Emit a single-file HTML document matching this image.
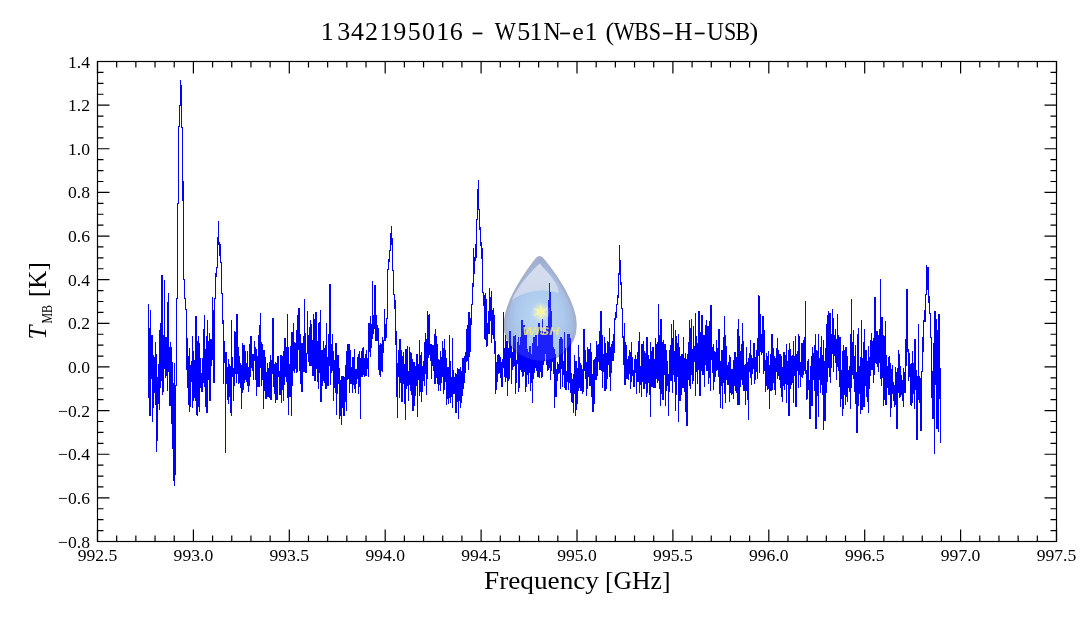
<!DOCTYPE html>
<html><head><meta charset="utf-8"><style>html,body{margin:0;padding:0;background:#fff;width:1080px;height:618px;overflow:hidden}svg{display:block;will-change:transform}</style></head>
<body><svg width="1080" height="618" viewBox="0 0 1080 618">
<rect x="97.5" y="61.5" width="959.0" height="480.0" fill="none" stroke="#000" stroke-width="1.2"/><path d="M97.50 541.5v-12M97.50 61.5v12M116.68 541.5v-6M116.68 61.5v6M135.86 541.5v-6M135.86 61.5v6M155.04 541.5v-6M155.04 61.5v6M174.22 541.5v-6M174.22 61.5v6M193.40 541.5v-12M193.40 61.5v12M212.58 541.5v-6M212.58 61.5v6M231.76 541.5v-6M231.76 61.5v6M250.94 541.5v-6M250.94 61.5v6M270.12 541.5v-6M270.12 61.5v6M289.30 541.5v-12M289.30 61.5v12M308.48 541.5v-6M308.48 61.5v6M327.66 541.5v-6M327.66 61.5v6M346.84 541.5v-6M346.84 61.5v6M366.02 541.5v-6M366.02 61.5v6M385.20 541.5v-12M385.20 61.5v12M404.38 541.5v-6M404.38 61.5v6M423.56 541.5v-6M423.56 61.5v6M442.74 541.5v-6M442.74 61.5v6M461.92 541.5v-6M461.92 61.5v6M481.10 541.5v-12M481.10 61.5v12M500.28 541.5v-6M500.28 61.5v6M519.46 541.5v-6M519.46 61.5v6M538.64 541.5v-6M538.64 61.5v6M557.82 541.5v-6M557.82 61.5v6M577.00 541.5v-12M577.00 61.5v12M596.18 541.5v-6M596.18 61.5v6M615.36 541.5v-6M615.36 61.5v6M634.54 541.5v-6M634.54 61.5v6M653.72 541.5v-6M653.72 61.5v6M672.90 541.5v-12M672.90 61.5v12M692.08 541.5v-6M692.08 61.5v6M711.26 541.5v-6M711.26 61.5v6M730.44 541.5v-6M730.44 61.5v6M749.62 541.5v-6M749.62 61.5v6M768.80 541.5v-12M768.80 61.5v12M787.98 541.5v-6M787.98 61.5v6M807.16 541.5v-6M807.16 61.5v6M826.34 541.5v-6M826.34 61.5v6M845.52 541.5v-6M845.52 61.5v6M864.70 541.5v-12M864.70 61.5v12M883.88 541.5v-6M883.88 61.5v6M903.06 541.5v-6M903.06 61.5v6M922.24 541.5v-6M922.24 61.5v6M941.42 541.5v-6M941.42 61.5v6M960.60 541.5v-12M960.60 61.5v12M979.78 541.5v-6M979.78 61.5v6M998.96 541.5v-6M998.96 61.5v6M1018.14 541.5v-6M1018.14 61.5v6M1037.32 541.5v-6M1037.32 61.5v6M1056.50 541.5v-12M1056.50 61.5v12M97.5 541.50h12M1056.5 541.50h-12M97.5 530.59h6M1056.5 530.59h-6M97.5 519.68h6M1056.5 519.68h-6M97.5 508.77h6M1056.5 508.77h-6M97.5 497.86h12M1056.5 497.86h-12M97.5 486.95h6M1056.5 486.95h-6M97.5 476.05h6M1056.5 476.05h-6M97.5 465.14h6M1056.5 465.14h-6M97.5 454.23h12M1056.5 454.23h-12M97.5 443.32h6M1056.5 443.32h-6M97.5 432.41h6M1056.5 432.41h-6M97.5 421.50h6M1056.5 421.50h-6M97.5 410.59h12M1056.5 410.59h-12M97.5 399.68h6M1056.5 399.68h-6M97.5 388.77h6M1056.5 388.77h-6M97.5 377.86h6M1056.5 377.86h-6M97.5 366.95h12M1056.5 366.95h-12M97.5 356.05h6M1056.5 356.05h-6M97.5 345.14h6M1056.5 345.14h-6M97.5 334.23h6M1056.5 334.23h-6M97.5 323.32h12M1056.5 323.32h-12M97.5 312.41h6M1056.5 312.41h-6M97.5 301.50h6M1056.5 301.50h-6M97.5 290.59h6M1056.5 290.59h-6M97.5 279.68h12M1056.5 279.68h-12M97.5 268.77h6M1056.5 268.77h-6M97.5 257.86h6M1056.5 257.86h-6M97.5 246.95h6M1056.5 246.95h-6M97.5 236.05h12M1056.5 236.05h-12M97.5 225.14h6M1056.5 225.14h-6M97.5 214.23h6M1056.5 214.23h-6M97.5 203.32h6M1056.5 203.32h-6M97.5 192.41h12M1056.5 192.41h-12M97.5 181.50h6M1056.5 181.50h-6M97.5 170.59h6M1056.5 170.59h-6M97.5 159.68h6M1056.5 159.68h-6M97.5 148.77h12M1056.5 148.77h-12M97.5 137.86h6M1056.5 137.86h-6M97.5 126.95h6M1056.5 126.95h-6M97.5 116.05h6M1056.5 116.05h-6M97.5 105.14h12M1056.5 105.14h-12M97.5 94.23h6M1056.5 94.23h-6M97.5 83.32h6M1056.5 83.32h-6M97.5 72.41h6M1056.5 72.41h-6M97.5 61.50h12M1056.5 61.50h-12" stroke="#000" stroke-width="1.2" fill="none"/><defs>
<radialGradient id="lg1" cx="0.5" cy="0.6" r="0.6">
<stop offset="0" stop-color="#c4e0f8"/><stop offset="0.55" stop-color="#b0cdef"/><stop offset="1" stop-color="#9aa8cc"/>
</radialGradient>
<linearGradient id="lg2" x1="0" y1="0" x2="0" y2="1">
<stop offset="0" stop-color="#e4e7f0"/><stop offset="1" stop-color="#d8dfee"/>
</linearGradient>
<radialGradient id="lg3" cx="0.5" cy="0.5" r="0.5">
<stop offset="0" stop-color="#fffbc0" stop-opacity="0.9"/><stop offset="1" stop-color="#fffbc0" stop-opacity="0"/>
</radialGradient>
</defs>
<path d="M535.8 260 Q539.6 254.6 543.4 260 C555 274 575.5 303 575.5 325 C575.5 346 559 360.7 540.5 360.7 C522 360.7 505 346 505 325 C505 303 525 274 536.6 259 Z" fill="url(#lg1)" stroke="#a9afc9" stroke-width="2.6"/>
<path d="M539.6 263.5 C546 270 562 288 558 293 C548 289 528 289 512 300 C518 285 533 270 539.6 263.5 Z" fill="url(#lg2)"/>
<path d="M148.10 304.0H148.30V310.2H148.50V397.5H148.70V349.4H148.90V362.5H149.10V365.3H149.30V328.4H149.50V380.1H149.70V350.9H149.90V415.5H150.10V356.7H150.30V370.5H150.50V310.0H150.70V351.9H150.90V342.7H151.10V353.8H151.30V369.9H151.50V340.0H151.70V378.0H151.90V335.0H152.10V421.0H152.30V395.3H152.50V366.7H152.70V360.8H152.90V371.8H153.10V388.9H153.30V407.2H153.50V355.0H153.70V371.7H153.90V392.9H154.10V357.7H154.30V378.0H154.50V388.8H154.70V375.4H154.90V370.2H155.10V384.2H155.30V342.0H155.50V404.8H155.70V351.3H155.90V354.1H156.10V451.0H156.30V382.6H156.50V364.3H156.70V360.0H156.90V377.3H157.10V440.0H157.30V405.8H157.50V387.2H157.70V436.0H157.90V397.4H158.10V364.5H158.30V368.3H158.50V403.8H158.70V394.6H158.90V382.4H159.10V363.0H159.30V390.6H159.50V330.6H159.70V409.6H159.90V386.0H160.10V342.8H160.30V382.8H160.50V352.9H160.70V387.6H160.90V323.2H161.10V366.5H161.30V380.7H161.50V378.9H161.70V327.8H161.90V275.0H162.10V374.8H162.30V359.3H162.50V394.3H162.70V346.5H162.90V385.4H163.10V349.0H163.30V391.9H163.50V359.0H163.70V360.8H163.90V335.9H164.10V280.0H164.30V360.0H164.50V366.3H164.70V368.4H164.90V358.3H165.10V344.4H165.30V346.0H165.50V349.4H165.70V377.4H165.90V337.0H166.10V360.0H166.30V359.7H166.50V373.8H166.70V375.7H166.90V350.3H167.10V302.0H167.30V381.4H167.50V390.7H167.70V379.6H167.90V371.6H168.10V365.7H168.30V366.6H168.50V351.4H168.70V293.0H168.90V347.1H169.10V371.7H169.30V361.4H169.50V373.9H169.70V366.2H169.90V405.2H170.10V380.4H170.30V395.2H170.50V342.0H170.70V378.0H170.90V362.3H171.10V400.8H171.30V347.3H171.50V423.7H171.70V399.4H171.90V362.2H172.10V383.8H172.30V380.7H172.50V448.0H172.70V404.1H172.90V424.3H173.10V470.0H173.30V414.9H173.50V383.9H173.70V480.0H173.90V396.5H174.10V485.0H174.30V363.8H174.50V483.0H174.70V381.1H174.90V445.5H175.10V474.0H175.30V395.9H175.50V396.6H175.70V460.0H175.90V385.1H176.10V332.7H176.30V331.0H176.50V332.1H176.70V330.0H176.90V298.7H177.10V282.8H177.30V268.2H177.50V254.8H177.70V251.0H177.90V203.6H178.10V181.4H178.30V131.0H178.50V132.5H178.70V129.9H178.90V126.0H179.10V124.1H179.30V117.0H179.50V117.3H179.70V110.5H179.90V105.1H180.10V95.5H180.30V80.0H180.50V80.4H180.70V82.2H180.90V85.7H181.10V89.0H181.30V87.5H181.50V90.9H181.70V107.4H181.90V127.4H182.10V145.3H182.30V164.9H182.50V183.4H182.70V200.5H182.90V181.0H183.10V237.8H183.30V272.0H183.50V275.4H183.70V276.7H183.90V279.4H184.10V290.0H184.30V288.2H184.50V290.9H184.70V296.3H184.90V298.0H185.10V302.7H185.30V305.2H185.50V308.1H185.70V308.0H185.90V309.7H186.10V330.1H186.30V369.8H186.50V331.3H186.70V334.8H186.90V338.2H187.10V340.4H187.30V370.5H187.50V387.8H187.70V364.5H187.90V384.6H188.10V404.6H188.30V376.1H188.50V385.0H188.70V377.5H188.90V356.3H189.10V408.3H189.30V348.9H189.50V411.2H189.70V376.6H189.90V406.6H190.10V375.1H190.30V366.6H190.50V388.1H190.70V365.2H190.90V375.5H191.10V381.7H191.30V373.5H191.50V368.9H191.70V361.2H191.90V375.4H192.10V336.3H192.30V383.6H192.50V355.7H192.70V407.8H192.90V400.8H193.10V351.1H193.30V396.5H193.50V377.4H193.70V372.5H193.90V397.9H194.10V375.7H194.30V360.0H194.50V388.8H194.70V374.8H194.90V384.2H195.10V354.2H195.30V400.8H195.50V391.8H195.70V362.5H195.90V316.0H196.10V383.0H196.30V372.7H196.50V414.6H196.70V375.2H196.90V361.9H197.10V360.2H197.30V369.7H197.50V415.0H197.70V341.2H197.90V365.2H198.10V364.9H198.30V350.7H198.50V406.0H198.70V336.9H198.90V385.7H199.10V365.1H199.30V381.8H199.50V343.4H199.70V411.4H199.90V358.5H200.10V378.4H200.30V360.7H200.50V368.3H200.70V387.5H200.90V383.7H201.10V378.0H201.30V390.2H201.50V374.4H201.70V373.5H201.90V391.4H202.10V379.8H202.30V363.4H202.50V379.2H202.70V378.3H202.90V358.3H203.10V345.7H203.30V367.7H203.50V382.5H203.70V329.1H203.90V348.8H204.10V345.6H204.30V377.7H204.50V315.2H204.70V386.6H204.90V385.5H205.10V349.1H205.30V406.0H205.50V373.9H205.70V364.0H205.90V375.4H206.10V336.0H206.30V370.0H206.50V407.5H206.70V341.1H206.90V412.9H207.10V355.1H207.30V399.3H207.50V364.4H207.70V320.4H207.90V367.3H208.10V370.2H208.30V342.0H208.50V341.0H208.70V379.7H208.90V347.9H209.10V333.4H209.30V355.4H209.50V387.5H209.70V359.2H209.90V400.9H210.10V388.6H210.30V355.1H210.50V343.4H210.70V339.6H210.90V364.3H211.10V365.4H211.30V356.0H211.50V362.0H211.70V339.9H211.90V359.2H212.10V297.0H212.30V297.0H212.50V297.8H212.70V299.9H212.90V310.0H213.10V328.4H213.30V332.6H213.50V351.6H213.70V334.1H213.90V382.5H214.10V308.9H214.30V308.5H214.50V313.2H214.70V309.0H214.90V298.9H215.10V287.7H215.30V273.0H215.50V277.7H215.70V279.6H215.90V273.0H216.10V276.2H216.30V273.2H216.50V268.0H216.70V274.7H216.90V267.1H217.10V241.0H217.30V247.9H217.50V244.8H217.70V237.7H217.90V242.4H218.10V241.5H218.30V228.6H218.50V222.2H218.70V221.0H218.90V244.6H219.10V242.3H219.30V250.6H219.50V250.0H219.70V252.2H219.90V255.7H220.10V261.0H220.30V250.0H220.50V244.0H220.70V250.6H220.90V262.9H221.10V271.3H221.30V270.9H221.50V275.7H221.70V275.0H221.90V293.3H222.10V317.0H222.30V309.3H222.50V321.4H222.70V323.0H222.90V320.0H223.10V367.7H223.30V341.4H223.50V383.4H223.70V347.0H223.90V346.1H224.10V344.7H224.30V345.8H224.50V362.3H224.70V341.6H224.90V362.6H225.10V361.7H225.30V374.9H225.50V368.7H225.70V452.0H225.90V352.5H226.10V383.5H226.30V382.8H226.50V372.7H226.70V381.3H226.90V370.8H227.10V379.1H227.30V367.2H227.50V399.0H227.70V368.6H227.90V371.1H228.10V359.4H228.30V383.9H228.50V403.8H228.70V380.2H228.90V364.7H229.10V396.7H229.30V386.4H229.50V383.6H229.70V385.5H229.90V394.2H230.10V385.2H230.30V396.2H230.50V366.0H230.70V412.2H230.90V376.1H231.10V415.5H231.30V320.1H231.50V400.5H231.70V382.1H231.90V362.9H232.10V376.5H232.30V373.7H232.50V374.2H232.70V357.6H232.90V376.1H233.10V392.5H233.30V400.5H233.50V368.3H233.70V377.8H233.90V374.7H234.10V385.7H234.30V331.7H234.50V338.6H234.70V369.6H234.90V333.9H235.10V351.6H235.30V351.5H235.50V369.0H235.70V332.2H235.90V373.6H236.10V315.1H236.30V382.7H236.50V329.8H236.70V346.9H236.90V314.5H237.10V353.6H237.30V357.7H237.50V357.3H237.70V373.1H237.90V366.1H238.10V370.6H238.30V383.7H238.50V347.7H238.70V363.0H238.90V356.3H239.10V382.7H239.30V374.3H239.50V380.2H239.70V363.1H239.90V367.2H240.10V384.7H240.30V363.7H240.50V387.9H240.70V378.2H240.90V365.4H241.10V380.9H241.30V379.0H241.50V406.9H241.70V408.1H241.90V366.6H242.10V377.3H242.30V343.6H242.50V392.7H242.70V374.7H242.90V360.7H243.10V389.8H243.30V345.7H243.50V378.0H243.70V370.1H243.90V352.6H244.10V382.0H244.30V372.2H244.50V345.6H244.70V357.1H244.90V379.7H245.10V361.8H245.30V351.0H245.50V363.7H245.70V365.3H245.90V363.8H246.10V374.7H246.30V367.3H246.50V381.8H246.70V369.3H246.90V367.8H247.10V373.9H247.30V379.2H247.50V374.2H247.70V351.4H247.90V385.9H248.10V367.2H248.30V391.4H248.50V367.7H248.70V378.7H248.90V369.2H249.10V385.7H249.30V355.4H249.50V350.9H249.70V357.4H249.90V344.2H250.10V358.9H250.30V350.6H250.50V353.5H250.70V376.9H250.90V336.6H251.10V356.5H251.30V349.9H251.50V367.1H251.70V337.3H251.90V356.7H252.10V360.0H252.30V370.9H252.50V358.4H252.70V358.2H252.90V354.4H253.10V374.7H253.30V379.1H253.50V363.1H253.70V364.5H253.90V360.4H254.10V341.9H254.30V353.4H254.50V352.1H254.70V359.2H254.90V356.8H255.10V347.8H255.30V379.9H255.50V376.1H255.70V356.4H255.90V371.9H256.10V370.2H256.30V380.8H256.50V349.5H256.70V395.5H256.90V356.5H257.10V386.4H257.30V360.6H257.50V363.4H257.70V365.7H257.90V379.0H258.10V348.4H258.30V363.1H258.50V356.7H258.70V335.2H258.90V386.6H259.10V355.4H259.30V355.2H259.50V373.3H259.70V325.3H259.90V357.9H260.10V321.0H260.30V367.4H260.50V313.9H260.70V313.4H260.90V358.2H261.10V385.6H261.30V342.7H261.50V362.6H261.70V375.3H261.90V344.7H262.10V379.6H262.30V379.5H262.50V373.8H262.70V372.2H262.90V355.4H263.10V385.7H263.30V367.4H263.50V402.1H263.70V408.4H263.90V350.6H264.10V350.7H264.30V378.8H264.50V383.3H264.70V390.8H264.90V386.8H265.10V362.6H265.30V366.5H265.50V394.8H265.70V357.8H265.90V398.8H266.10V372.3H266.30V393.8H266.50V383.7H266.70V390.0H266.90V388.1H267.10V363.8H267.30V388.7H267.50V372.6H267.70V381.3H267.90V396.5H268.10V370.9H268.30V368.5H268.50V369.7H268.70V372.7H268.90V387.3H269.10V365.5H269.30V397.5H269.50V379.3H269.70V378.7H269.90V362.5H270.10V387.5H270.30V385.7H270.50V355.2H270.70V399.6H270.90V390.5H271.10V376.8H271.30V378.1H271.50V399.3H271.70V378.1H271.90V360.1H272.10V373.2H272.30V365.8H272.50V370.1H272.70V347.8H272.90V318.0H273.10V358.4H273.30V377.8H273.50V369.5H273.70V386.7H273.90V368.0H274.10V366.6H274.30V386.2H274.50V388.6H274.70V364.2H274.90V393.0H275.10V372.1H275.30V374.4H275.50V402.3H275.70V362.6H275.90V396.6H276.10V370.5H276.30V390.2H276.50V363.5H276.70V376.0H276.90V399.7H277.10V381.6H277.30V383.6H277.50V375.3H277.70V385.6H277.90V356.8H278.10V367.9H278.30V376.8H278.50V364.9H278.70V369.5H278.90V374.6H279.10V372.3H279.30V371.0H279.50V394.1H279.70V379.8H279.90V394.4H280.10V375.4H280.30V376.5H280.50V366.0H280.70V382.1H280.90V355.6H281.10V383.5H281.30V391.1H281.50V402.9H281.70V391.8H281.90V364.8H282.10V385.6H282.30V356.8H282.50V389.5H282.70V368.0H282.90V383.6H283.10V400.2H283.30V370.9H283.50V398.1H283.70V351.5H283.90V357.7H284.10V384.8H284.30V383.7H284.50V341.3H284.70V366.4H284.90V338.6H285.10V373.4H285.30V376.9H285.50V362.4H285.70V359.3H285.90V347.7H286.10V381.6H286.30V380.2H286.50V379.5H286.70V371.7H286.90V347.4H287.10V314.0H287.30V368.8H287.50V381.9H287.70V397.6H287.90V347.5H288.10V403.1H288.30V386.0H288.50V396.5H288.70V414.3H288.90V396.8H289.10V369.1H289.30V395.9H289.50V392.0H289.70V388.8H289.90V364.1H290.10V361.4H290.30V396.7H290.50V380.4H290.70V376.8H290.90V346.8H291.10V399.7H291.30V332.4H291.50V375.5H291.70V415.0H291.90V350.1H292.10V365.3H292.30V337.0H292.50V385.4H292.70V332.4H292.90V366.6H293.10V351.6H293.30V336.3H293.50V370.2H293.70V323.9H293.90V349.4H294.10V348.1H294.30V342.8H294.50V364.2H294.70V372.1H294.90V349.2H295.10V343.7H295.30V349.2H295.50V353.2H295.70V368.7H295.90V344.9H296.10V362.2H296.30V351.6H296.50V341.7H296.70V372.1H296.90V330.0H297.10V364.2H297.30V371.9H297.50V318.1H297.70V357.6H297.90V315.4H298.10V349.5H298.30V316.6H298.50V349.3H298.70V332.3H298.90V308.0H299.10V370.1H299.30V347.4H299.50V366.9H299.70V352.9H299.90V356.7H300.10V346.1H300.30V334.6H300.50V365.6H300.70V383.7H300.90V361.2H301.10V351.5H301.30V391.7H301.50V351.0H301.70V356.5H301.90V343.6H302.10V350.5H302.30V361.5H302.50V391.5H302.70V353.1H302.90V359.7H303.10V358.9H303.30V362.1H303.50V336.3H303.70V371.9H303.90V368.4H304.10V299.6H304.30V362.2H304.50V338.4H304.70V337.6H304.90V371.9H305.10V361.9H305.30V333.2H305.50V367.7H305.70V356.5H305.90V372.6H306.10V364.1H306.30V356.3H306.50V362.2H306.70V357.5H306.90V353.8H307.10V326.7H307.30V311.7H307.50V342.4H307.70V320.0H307.90V348.6H308.10V341.1H308.30V335.5H308.50V335.1H308.70V344.0H308.90V361.2H309.10V327.2H309.30V363.0H309.50V345.2H309.70V341.1H309.90V365.0H310.10V325.2H310.30V365.8H310.50V320.6H310.70V333.8H310.90V328.0H311.10V354.7H311.30V324.9H311.50V351.1H311.70V326.3H311.90V365.1H312.10V365.0H312.30V340.7H312.50V371.0H312.70V345.8H312.90V375.5H313.10V328.4H313.30V314.1H313.50V373.0H313.70V329.2H313.90V329.5H314.10V339.8H314.30V319.3H314.50V350.5H314.70V319.7H314.90V380.4H315.10V353.1H315.30V321.7H315.50V328.6H315.70V347.5H315.90V312.6H316.10V368.2H316.30V354.7H316.50V338.8H316.70V357.9H316.90V365.4H317.10V381.8H317.30V380.9H317.50V351.9H317.70V381.2H317.90V341.7H318.10V372.4H318.30V333.5H318.50V388.1H318.70V323.2H318.90V355.7H319.10V369.9H319.30V370.0H319.50V322.8H319.70V360.2H319.90V372.1H320.10V310.0H320.30V351.4H320.50V379.1H320.70V365.3H320.90V401.1H321.10V375.7H321.30V353.9H321.50V350.9H321.70V385.4H321.90V385.2H322.10V374.8H322.30V385.1H322.50V356.4H322.70V350.5H322.90V380.4H323.10V362.0H323.30V380.5H323.50V341.1H323.70V371.1H323.90V348.9H324.10V377.2H324.30V349.3H324.50V359.9H324.70V357.1H324.90V382.5H325.10V351.3H325.30V345.4H325.50V348.7H325.70V349.0H325.90V388.6H326.10V323.0H326.30V358.7H326.50V371.5H326.70V377.7H326.90V358.4H327.10V371.5H327.30V367.0H327.50V369.5H327.70V357.4H327.90V385.9H328.10V350.5H328.30V382.3H328.50V334.3H328.70V382.4H328.90V335.9H329.10V342.4H329.30V365.2H329.50V338.7H329.70V363.3H329.90V284.0H330.10V384.8H330.30V345.5H330.50V341.0H330.70V356.6H330.90V360.9H331.10V344.6H331.30V364.2H331.50V372.9H331.70V358.0H331.90V351.6H332.10V354.7H332.30V370.2H332.50V341.4H332.70V334.1H332.90V362.4H333.10V351.1H333.30V400.5H333.50V367.1H333.70V361.4H333.90V360.2H334.10V387.1H334.30V362.1H334.50V373.3H334.70V375.0H334.90V377.5H335.10V377.9H335.30V372.8H335.50V391.5H335.70V392.1H335.90V343.3H336.10V414.8H336.30V362.1H336.50V401.7H336.70V359.8H336.90V393.0H337.10V378.9H337.30V382.2H337.50V389.3H337.70V383.7H337.90V355.4H338.10V374.7H338.30V383.5H338.50V379.3H338.70V366.4H338.90V373.1H339.10V382.6H339.30V368.1H339.50V374.2H339.70V418.6H339.90V381.2H340.10V405.7H340.30V383.9H340.50V415.1H340.70V407.9H340.90V380.6H341.10V424.0H341.30V382.3H341.50V421.5H341.70V392.8H341.90V376.7H342.10V407.3H342.30V384.8H342.50V389.3H342.70V386.5H342.90V376.1H343.10V379.6H343.30V393.4H343.50V384.9H343.70V377.0H343.90V415.7H344.10V377.4H344.30V389.2H344.50V386.0H344.70V405.7H344.90V401.7H345.10V388.4H345.30V396.9H345.50V365.3H345.70V388.2H345.90V381.3H346.10V381.3H346.30V382.2H346.50V354.5H346.70V410.3H346.90V351.5H347.10V379.0H347.30V375.2H347.50V374.4H347.70V366.9H347.90V344.6H348.10V365.0H348.30V378.2H348.50V354.4H348.70V362.8H348.90V344.9H349.10V392.5H349.30V366.7H349.50V355.3H349.70V367.8H349.90V358.8H350.10V350.6H350.30V362.4H350.50V368.7H350.70V372.2H350.90V383.0H351.10V369.3H351.30V367.1H351.50V382.8H351.70V368.8H351.90V367.6H352.10V392.9H352.30V368.4H352.50V376.7H352.70V381.4H352.90V357.8H353.10V384.2H353.30V376.8H353.50V369.9H353.70V375.3H353.90V358.8H354.10V349.8H354.30V376.1H354.50V364.3H354.70V388.1H354.90V374.6H355.10V369.0H355.30V379.6H355.50V392.4H355.70V384.8H355.90V378.9H356.10V379.1H356.30V369.9H356.50V375.6H356.70V383.8H356.90V372.9H357.10V378.5H357.30V357.0H357.50V357.7H357.70V360.8H357.90V376.7H358.10V393.8H358.30V386.7H358.50V357.4H358.70V354.5H358.90V383.9H359.10V369.0H359.30V351.3H359.50V386.4H359.70V361.7H359.90V384.5H360.10V418.0H360.30V376.6H360.50V367.1H360.70V358.8H360.90V370.2H361.10V357.7H361.30V375.4H361.50V351.5H361.70V355.4H361.90V376.9H362.10V371.7H362.30V375.8H362.50V373.0H362.70V348.0H362.90V363.5H363.10V364.1H363.30V369.3H363.50V347.3H363.70V374.3H363.90V366.6H364.10V358.4H364.30V372.2H364.50V376.7H364.70V361.9H364.90V375.6H365.10V367.8H365.30V360.1H365.50V361.6H365.70V354.9H365.90V375.9H366.10V350.1H366.30V356.0H366.50V369.7H366.70V351.4H366.90V366.6H367.10V368.2H367.30V358.0H367.50V360.0H367.70V367.0H367.90V362.5H368.10V325.1H368.30V341.9H368.50V376.4H368.70V351.1H368.90V323.8H369.10V333.5H369.30V346.4H369.50V325.4H369.70V351.9H369.90V336.1H370.10V343.4H370.30V316.9H370.50V346.1H370.70V356.8H370.90V324.4H371.10V347.6H371.30V336.2H371.50V339.6H371.70V335.2H371.90V324.6H372.10V281.0H372.30V338.8H372.50V336.7H372.70V335.9H372.90V331.3H373.10V333.1H373.30V320.2H373.50V315.9H373.70V328.5H373.90V327.4H374.10V326.7H374.30V317.1H374.50V328.7H374.70V318.3H374.90V285.7H375.10V317.0H375.30V331.3H375.50V332.1H375.70V328.5H375.90V340.0H376.10V319.1H376.30V315.4H376.50V340.5H376.70V335.7H376.90V336.3H377.10V334.5H377.30V340.2H377.50V333.5H377.70V325.4H377.90V337.0H378.10V352.0H378.30V341.5H378.50V369.7H378.70V328.2H378.90V354.5H379.10V374.1H379.30V349.5H379.50V350.2H379.70V345.8H379.90V351.6H380.10V376.1H380.30V353.2H380.50V360.3H380.70V343.3H380.90V367.9H381.10V349.2H381.30V344.1H381.50V348.9H381.70V354.3H381.90V370.8H382.10V347.4H382.30V358.8H382.50V371.2H382.70V337.3H382.90V340.2H383.10V352.7H383.30V340.7H383.50V344.6H383.70V349.0H383.90V340.1H384.10V336.8H384.30V309.0H384.50V339.9H384.70V321.1H384.90V333.4H385.10V337.8H385.30V327.5H385.50V340.8H385.70V327.0H385.90V324.1H386.10V337.7H386.30V328.6H386.50V319.2H386.70V321.9H386.90V318.3H387.10V275.0H387.30V276.0H387.50V281.0H387.70V272.6H387.90V269.8H388.10V265.9H388.30V263.9H388.50V259.0H388.70V263.3H388.90V261.6H389.10V260.7H389.30V255.0H389.50V261.1H389.70V254.6H389.90V250.0H390.10V247.6H390.30V233.0H390.50V238.2H390.70V238.7H390.90V235.6H391.10V230.6H391.30V226.0H391.50V229.5H391.70V244.2H391.90V238.2H392.10V240.3H392.30V246.0H392.50V252.2H392.70V246.0H392.90V270.2H393.10V277.8H393.30V282.7H393.50V294.2H393.70V289.0H393.90V294.5H394.10V299.5H394.30V298.6H394.50V308.2H394.70V301.3H394.90V300.0H395.10V338.4H395.30V329.4H395.50V332.6H395.70V336.2H395.90V344.4H396.10V364.3H396.30V331.1H396.50V396.7H396.70V349.7H396.90V364.1H397.10V393.9H397.30V382.4H397.50V417.1H397.70V380.7H397.90V363.5H398.10V367.4H398.30V360.1H398.50V364.3H398.70V376.2H398.90V350.5H399.10V397.1H399.30V359.9H399.50V377.1H399.70V388.2H399.90V339.2H400.10V369.0H400.30V382.1H400.50V369.2H400.70V374.3H400.90V381.2H401.10V361.4H401.30V375.2H401.50V350.4H401.70V351.2H401.90V401.5H402.10V356.7H402.30V370.7H402.50V396.4H402.70V384.5H402.90V358.6H403.10V362.9H403.30V364.6H403.50V352.9H403.70V383.5H403.90V364.4H404.10V364.3H404.30V382.0H404.50V381.6H404.70V403.2H404.90V395.8H405.10V349.5H405.30V402.1H405.50V352.0H405.70V419.0H405.90V388.7H406.10V355.3H406.30V369.8H406.50V388.0H406.70V349.9H406.90V355.4H407.10V372.8H407.30V385.5H407.50V371.5H407.70V346.4H407.90V375.0H408.10V377.1H408.30V400.5H408.50V371.3H408.70V380.9H408.90V384.0H409.10V355.9H409.30V374.7H409.50V369.4H409.70V347.5H409.90V366.6H410.10V369.8H410.30V352.7H410.50V390.7H410.70V377.2H410.90V383.6H411.10V353.8H411.30V378.5H411.50V394.8H411.70V381.1H411.90V359.8H412.10V383.0H412.30V393.5H412.50V365.2H412.70V381.4H412.90V410.7H413.10V363.4H413.30V381.2H413.50V362.4H413.70V373.4H413.90V405.5H414.10V372.1H414.30V362.5H414.50V368.0H414.70V378.0H414.90V389.1H415.10V366.2H415.30V395.4H415.50V366.4H415.70V383.2H415.90V378.3H416.10V379.1H416.30V365.9H416.50V375.7H416.70V385.7H416.90V354.4H417.10V383.9H417.30V377.6H417.50V387.4H417.70V416.0H417.90V373.6H418.10V379.5H418.30V364.4H418.50V375.2H418.70V379.3H418.90V376.1H419.10V356.2H419.30V369.5H419.50V340.7H419.70V395.2H419.90V361.3H420.10V382.9H420.30V355.9H420.50V382.5H420.70V383.5H420.90V391.9H421.10V352.7H421.30V401.2H421.50V371.4H421.70V371.1H421.90V391.6H422.10V368.1H422.30V373.7H422.50V366.3H422.70V384.2H422.90V373.2H423.10V374.6H423.30V361.9H423.50V368.4H423.70V374.3H423.90V380.6H424.10V356.5H424.30V385.4H424.50V351.2H424.70V342.0H424.90V373.2H425.10V333.6H425.30V369.0H425.50V369.2H425.70V348.1H425.90V355.0H426.10V394.5H426.30V339.7H426.50V358.7H426.70V363.4H426.90V346.3H427.10V347.8H427.30V348.0H427.50V311.4H427.70V378.5H427.90V315.1H428.10V334.8H428.30V357.9H428.50V341.7H428.70V323.3H428.90V349.1H429.10V320.4H429.30V339.5H429.50V314.0H429.70V339.9H429.90V354.4H430.10V347.1H430.30V350.8H430.50V360.2H430.70V345.9H430.90V344.8H431.10V350.8H431.30V378.2H431.50V348.8H431.70V364.5H431.90V352.4H432.10V358.0H432.30V365.4H432.50V356.1H432.70V355.9H432.90V345.0H433.10V348.8H433.30V370.8H433.50V368.5H433.70V369.0H433.90V357.2H434.10V353.1H434.30V374.1H434.50V362.6H434.70V334.3H434.90V383.6H435.10V360.1H435.30V380.7H435.50V329.3H435.70V343.7H435.90V377.0H436.10V336.7H436.30V363.1H436.50V354.1H436.70V357.9H436.90V344.4H437.10V375.5H437.30V383.6H437.50V373.6H437.70V376.9H437.90V362.2H438.10V389.6H438.30V378.6H438.50V390.5H438.70V359.8H438.90V381.4H439.10V360.6H439.30V384.8H439.50V377.3H439.70V364.3H439.90V383.0H440.10V390.0H440.30V372.9H440.50V371.9H440.70V351.6H440.90V368.6H441.10V357.4H441.30V373.9H441.50V382.2H441.70V366.3H441.90V365.6H442.10V348.5H442.30V376.4H442.50V360.9H442.70V341.1H442.90V348.9H443.10V364.4H443.30V352.6H443.50V393.6H443.70V359.5H443.90V351.9H444.10V360.1H444.30V389.9H444.50V339.0H444.70V379.5H444.90V359.7H445.10V381.1H445.30V358.0H445.50V350.4H445.70V364.1H445.90V358.3H446.10V377.8H446.30V361.8H446.50V404.3H446.70V366.6H446.90V388.2H447.10V367.4H447.30V388.6H447.50V382.4H447.70V389.8H447.90V398.3H448.10V373.9H448.30V374.5H448.50V403.6H448.70V367.2H448.90V371.7H449.10V397.7H449.30V382.6H449.50V335.3H449.70V383.5H449.90V387.5H450.10V385.9H450.30V366.6H450.50V402.6H450.70V361.2H450.90V384.7H451.10V385.1H451.30V384.1H451.50V395.2H451.70V396.6H451.90V377.2H452.10V338.0H452.30V368.3H452.50V388.3H452.70V407.8H452.90V376.1H453.10V393.7H453.30V370.1H453.50V381.9H453.70V377.4H453.90V382.0H454.10V377.8H454.30V384.6H454.50V389.1H454.70V393.4H454.90V380.3H455.10V395.9H455.30V394.3H455.50V373.3H455.70V375.1H455.90V412.4H456.10V398.4H456.30V386.7H456.50V392.1H456.70V374.9H456.90V374.2H457.10V392.6H457.30V368.1H457.50V401.4H457.70V374.3H457.90V392.8H458.10V407.2H458.30V403.1H458.50V418.0H458.70V401.4H458.90V369.3H459.10V383.8H459.30V389.5H459.50V400.3H459.70V373.9H459.90V394.2H460.10V382.4H460.30V367.9H460.50V384.0H460.70V407.0H460.90V381.6H461.10V396.7H461.30V392.5H461.50V371.5H461.70V402.1H461.90V395.8H462.10V388.0H462.30V384.5H462.50V359.2H462.70V361.0H462.90V358.7H463.10V359.8H463.30V364.2H463.50V384.8H463.70V388.5H463.90V364.7H464.10V382.4H464.30V356.0H464.50V375.2H464.70V364.3H464.90V361.7H465.10V372.0H465.30V364.4H465.50V362.6H465.70V360.7H465.90V352.1H466.10V361.8H466.30V350.0H466.50V361.3H466.70V329.8H466.90V355.7H467.10V349.0H467.30V360.7H467.50V348.5H467.70V334.8H467.90V325.6H468.10V315.6H468.30V346.6H468.50V362.3H468.70V369.3H468.90V312.7H469.10V345.5H469.30V336.0H469.50V333.7H469.70V356.5H469.90V351.1H470.10V329.9H470.30V340.0H470.50V318.5H470.70V330.9H470.90V324.4H471.10V304.4H471.30V314.6H471.50V309.6H471.70V304.0H471.90V304.6H472.10V294.1H472.30V303.3H472.50V286.1H472.70V283.5H472.90V286.0H473.10V275.4H473.30V262.7H473.50V274.5H473.70V248.0H473.90V263.2H474.10V263.9H474.30V273.6H474.50V267.2H474.70V262.0H474.90V257.1H475.10V260.1H475.30V244.0H475.50V257.7H475.70V249.2H475.90V257.5H476.10V250.1H476.30V245.9H476.50V227.0H476.70V225.5H476.90V219.3H477.10V189.0H477.30V209.4H477.50V193.0H477.70V207.3H477.90V198.2H478.10V187.4H478.30V180.0H478.50V181.1H478.70V195.0H478.90V209.5H479.10V209.6H479.30V221.3H479.50V227.0H479.70V227.1H479.90V229.9H480.10V229.3H480.30V227.0H480.50V230.8H480.70V236.4H480.90V245.0H481.10V242.2H481.30V258.1H481.50V249.3H481.70V257.0H481.90V248.0H482.10V272.9H482.30V276.8H482.50V290.2H482.70V279.0H482.90V292.3H483.10V301.0H483.30V299.9H483.50V305.1H483.70V303.4H483.90V302.9H484.10V322.2H484.30V302.6H484.50V338.0H484.70V295.9H484.90V312.8H485.10V293.2H485.30V339.2H485.50V308.4H485.70V334.5H485.90V299.6H486.10V325.7H486.30V315.5H486.50V321.5H486.70V346.1H486.90V345.6H487.10V337.2H487.30V323.6H487.50V341.1H487.70V339.4H487.90V329.3H488.10V330.1H488.30V328.7H488.50V311.5H488.70V326.0H488.90V333.6H489.10V300.7H489.30V288.5H489.50V322.0H489.70V300.5H489.90V320.0H490.10V297.1H490.30V312.9H490.50V301.8H490.70V313.0H490.90V317.4H491.10V291.0H491.30V319.7H491.50V295.4H491.70V342.3H491.90V311.0H492.10V315.2H492.30V324.4H492.50V334.0H492.70V310.6H492.90V323.6H493.10V320.8H493.30V338.6H493.50V308.5H493.70V332.7H493.90V317.3H494.10V331.4H494.30V353.7H494.50V324.6H494.70V315.1H494.90V341.7H495.10V350.0H495.30V353.3H495.50V359.3H495.70V393.3H495.90V362.5H496.10V380.8H496.30V373.3H496.50V389.0H496.70V372.7H496.90V371.4H497.10V367.6H497.30V381.2H497.50V376.7H497.70V355.2H497.90V366.4H498.10V372.8H498.30V373.1H498.50V354.5H498.70V365.9H498.90V372.9H499.10V359.1H499.30V363.3H499.50V360.5H499.70V355.8H499.90V369.7H500.10V368.7H500.30V357.9H500.50V374.0H500.70V377.9H500.90V369.2H501.10V378.7H501.30V364.6H501.50V385.5H501.70V362.4H501.90V386.0H502.10V359.3H502.30V363.2H502.50V359.0H502.70V364.9H502.90V362.5H503.10V354.8H503.30V312.7H503.50V367.0H503.70V367.3H503.90V359.7H504.10V376.3H504.30V348.0H504.50V356.9H504.70V351.9H504.90V373.5H505.10V335.3H505.30V351.0H505.50V381.8H505.70V378.3H505.90V377.1H506.10V341.8H506.30V369.7H506.50V374.1H506.70V362.9H506.90V344.7H507.10V365.6H507.30V341.6H507.50V360.0H507.70V395.6H507.90V370.3H508.10V348.3H508.30V354.1H508.50V380.5H508.70V357.6H508.90V378.2H509.10V353.1H509.30V363.0H509.50V362.0H509.70V341.5H509.90V331.8H510.10V345.7H510.30V349.1H510.50V354.7H510.70V357.3H510.90V355.3H511.10V366.8H511.30V346.3H511.50V382.7H511.70V383.1H511.90V358.0H512.10V355.0H512.30V369.4H512.50V356.4H512.70V356.0H512.90V352.9H513.10V347.0H513.30V340.9H513.50V366.3H513.70V364.3H513.90V336.4H514.10V365.1H514.30V363.8H514.50V357.9H514.70V349.9H514.90V355.2H515.10V335.6H515.30V371.6H515.50V359.2H515.70V393.8H515.90V371.3H516.10V360.9H516.30V368.2H516.50V382.1H516.70V377.0H516.90V360.6H517.10V358.4H517.30V342.0H517.50V363.6H517.70V363.2H517.90V356.0H518.10V391.5H518.30V337.3H518.50V374.2H518.70V367.3H518.90V372.4H519.10V387.4H519.30V345.6H519.50V364.4H519.70V365.8H519.90V359.6H520.10V348.6H520.30V344.9H520.50V369.8H520.70V337.0H520.90V353.2H521.10V371.3H521.30V367.3H521.50V358.0H521.70V340.4H521.90V320.0H522.10V347.9H522.30V344.7H522.50V353.6H522.70V376.6H522.90V355.8H523.10V349.8H523.30V347.6H523.50V345.1H523.70V375.0H523.90V325.1H524.10V366.3H524.30V331.1H524.50V346.4H524.70V335.1H524.90V371.2H525.10V346.5H525.30V391.8H525.50V329.3H525.70V348.4H525.90V364.1H526.10V362.8H526.30V353.0H526.50V334.4H526.70V386.3H526.90V357.7H527.10V363.7H527.30V349.0H527.50V374.2H527.70V351.8H527.90V366.7H528.10V357.8H528.30V383.9H528.50V352.7H528.70V360.1H528.90V372.7H529.10V359.8H529.30V361.9H529.50V353.3H529.70V370.5H529.90V346.8H530.10V372.9H530.30V390.5H530.50V362.6H530.70V354.9H530.90V360.0H531.10V382.9H531.30V354.1H531.50V356.4H531.70V367.9H531.90V356.0H532.10V385.9H532.30V343.2H532.50V402.1H532.70V351.8H532.90V378.2H533.10V373.5H533.30V366.2H533.50V371.5H533.70V343.1H533.90V337.5H534.10V371.4H534.30V337.0H534.50V361.7H534.70V372.4H534.90V348.8H535.10V350.6H535.30V347.9H535.50V367.5H535.70V363.1H535.90V335.2H536.10V368.9H536.30V338.0H536.50V360.7H536.70V343.6H536.90V370.9H537.10V358.0H537.30V346.5H537.50V346.2H537.70V356.9H537.90V376.3H538.10V365.8H538.30V352.1H538.50V359.5H538.70V374.2H538.90V323.5H539.10V369.5H539.30V336.7H539.50V377.0H539.70V340.6H539.90V349.9H540.10V331.0H540.30V351.1H540.50V357.4H540.70V371.6H540.90V333.6H541.10V350.2H541.30V377.8H541.50V342.6H541.70V346.8H541.90V353.4H542.10V319.2H542.30V376.2H542.50V340.5H542.70V332.9H542.90V364.3H543.10V334.8H543.30V341.1H543.50V357.9H543.70V350.3H543.90V341.5H544.10V349.0H544.30V332.1H544.50V334.3H544.70V360.3H544.90V353.5H545.10V344.8H545.30V348.6H545.50V339.5H545.70V343.6H545.90V331.5H546.10V364.0H546.30V326.2H546.50V350.4H546.70V335.8H546.90V326.6H547.10V370.7H547.30V333.4H547.50V342.5H547.70V351.5H547.90V341.0H548.10V300.0H548.30V342.8H548.50V369.8H548.70V356.8H548.90V336.7H549.10V283.0H549.30V350.7H549.50V339.7H549.70V367.3H549.90V360.1H550.10V292.0H550.30V340.1H550.50V379.5H550.70V353.7H550.90V370.2H551.10V353.9H551.30V357.8H551.50V366.8H551.70V311.0H551.90V330.6H552.10V360.7H552.30V344.5H552.50V356.1H552.70V361.2H552.90V347.0H553.10V373.6H553.30V349.2H553.50V351.6H553.70V364.8H553.90V359.4H554.10V349.9H554.30V357.6H554.50V407.4H554.70V356.6H554.90V369.8H555.10V379.2H555.30V354.5H555.50V386.2H555.70V392.4H555.90V396.9H556.10V369.8H556.30V395.4H556.50V374.0H556.70V376.8H556.90V377.0H557.10V374.5H557.30V380.3H557.50V367.9H557.70V362.6H557.90V367.5H558.10V364.8H558.30V373.3H558.50V364.3H558.70V372.8H558.90V372.8H559.10V339.9H559.30V356.4H559.50V364.7H559.70V356.0H559.90V342.8H560.10V375.2H560.30V354.9H560.50V348.1H560.70V388.1H560.90V337.3H561.10V368.6H561.30V353.9H561.50V365.0H561.70V367.8H561.90V354.3H562.10V372.5H562.30V363.8H562.50V339.0H562.70V386.7H562.90V365.1H563.10V369.3H563.30V362.5H563.50V371.8H563.70V374.4H563.90V361.5H564.10V387.4H564.30V332.8H564.50V355.6H564.70V377.1H564.90V348.7H565.10V379.8H565.30V360.9H565.50V384.9H565.70V373.8H565.90V389.3H566.10V380.5H566.30V384.2H566.50V371.3H566.70V382.9H566.90V373.6H567.10V361.6H567.30V355.4H567.50V353.7H567.70V381.7H567.90V334.3H568.10V389.0H568.30V357.2H568.50V385.6H568.70V365.2H568.90V354.3H569.10V366.5H569.30V334.2H569.50V382.1H569.70V370.6H569.90V338.3H570.10V387.2H570.30V361.2H570.50V374.6H570.70V348.7H570.90V392.8H571.10V385.9H571.30V382.2H571.50V373.0H571.70V401.6H571.90V401.9H572.10V391.6H572.30V402.3H572.50V379.2H572.70V394.9H572.90V389.0H573.10V388.9H573.30V412.4H573.50V378.3H573.70V374.1H573.90V393.0H574.10V355.9H574.30V388.1H574.50V383.2H574.70V370.0H574.90V374.2H575.10V361.2H575.30V379.6H575.50V415.0H575.70V404.4H575.90V379.5H576.10V376.2H576.30V361.9H576.50V409.7H576.70V383.1H576.90V382.8H577.10V381.9H577.30V382.2H577.50V368.5H577.70V403.0H577.90V368.7H578.10V360.6H578.30V370.4H578.50V345.6H578.70V390.8H578.90V372.8H579.10V387.4H579.30V387.0H579.50V357.7H579.70V380.4H579.90V380.1H580.10V377.2H580.30V363.5H580.50V380.1H580.70V374.2H580.90V390.7H581.10V370.1H581.30V374.4H581.50V365.3H581.70V369.6H581.90V369.0H582.10V371.5H582.30V379.9H582.50V381.3H582.70V393.1H582.90V388.2H583.10V384.6H583.30V358.3H583.50V391.4H583.70V387.1H583.90V329.8H584.10V364.3H584.30V364.6H584.50V359.8H584.70V370.6H584.90V358.4H585.10V378.7H585.30V350.6H585.50V377.3H585.70V371.8H585.90V362.8H586.10V395.2H586.30V376.0H586.50V388.8H586.70V370.9H586.90V388.1H587.10V379.5H587.30V369.2H587.50V347.3H587.70V388.7H587.90V376.2H588.10V371.5H588.30V367.7H588.50V370.6H588.70V369.0H588.90V349.9H589.10V372.0H589.30V369.1H589.50V357.3H589.70V351.4H589.90V385.0H590.10V365.8H590.30V366.8H590.50V361.7H590.70V343.3H590.90V359.1H591.10V370.2H591.30V387.3H591.50V352.1H591.70V378.7H591.90V396.1H592.10V378.0H592.30V378.8H592.50V387.4H592.70V374.8H592.90V411.0H593.10V391.1H593.30V387.7H593.50V366.8H593.70V398.5H593.90V360.0H594.10V377.8H594.30V403.0H594.50V365.1H594.70V386.2H594.90V359.0H595.10V366.1H595.30V357.3H595.50V362.8H595.70V370.3H595.90V379.1H596.10V361.6H596.30V372.5H596.50V341.8H596.70V377.7H596.90V362.5H597.10V373.7H597.30V345.3H597.50V358.5H597.70V375.6H597.90V354.5H598.10V354.1H598.30V344.6H598.50V354.3H598.70V360.5H598.90V361.3H599.10V336.8H599.30V344.9H599.50V355.2H599.70V331.6H599.90V369.7H600.10V349.8H600.30V357.4H600.50V330.1H600.70V348.1H600.90V311.7H601.10V353.7H601.30V345.8H601.50V370.3H601.70V365.4H601.90V363.0H602.10V335.2H602.30V387.6H602.50V347.6H602.70V373.0H602.90V354.4H603.10V369.8H603.30V369.4H603.50V363.7H603.70V371.9H603.90V354.8H604.10V390.5H604.30V337.4H604.50V369.1H604.70V379.7H604.90V359.9H605.10V367.7H605.30V354.0H605.50V390.5H605.70V343.3H605.90V388.7H606.10V370.8H606.30V379.4H606.50V382.3H606.70V353.5H606.90V360.0H607.10V359.5H607.30V341.9H607.50V378.2H607.70V352.6H607.90V364.1H608.10V342.3H608.30V362.7H608.50V351.9H608.70V359.4H608.90V346.2H609.10V376.9H609.30V345.8H609.50V328.1H609.70V372.9H609.90V349.7H610.10V353.9H610.30V390.5H610.50V350.7H610.70V347.6H610.90V351.9H611.10V362.3H611.30V351.9H611.50V372.4H611.70V360.6H611.90V344.0H612.10V354.6H612.30V354.5H612.50V341.3H612.70V345.0H612.90V360.9H613.10V347.7H613.30V334.6H613.50V349.8H613.70V349.3H613.90V352.0H614.10V331.5H614.30V320.2H614.50V323.8H614.70V318.0H614.90V318.0H615.10V315.8H615.30V319.9H615.50V312.0H615.70V316.8H615.90V317.9H616.10V317.0H616.30V309.8H616.50V305.0H616.70V305.0H616.90V304.7H617.10V300.7H617.30V301.8H617.50V300.0H617.70V295.0H617.90V297.0H618.10V284.4H618.30V280.3H618.50V282.3H618.70V273.5H618.90V274.0H619.10V261.1H619.30V255.9H619.50V245.0H619.70V251.7H619.90V260.8H620.10V264.5H620.30V274.0H620.50V276.5H620.70V284.1H620.90V282.9H621.10V286.1H621.30V293.6H621.50V296.1H621.70V292.0H621.90V308.2H622.10V315.9H622.30V325.3H622.50V333.8H622.70V330.0H622.90V337.2H623.10V353.8H623.30V364.4H623.50V343.9H623.70V346.5H623.90V336.9H624.10V354.8H624.30V358.1H624.50V323.4H624.70V384.1H624.90V365.2H625.10V384.6H625.30V342.4H625.50V368.0H625.70V359.4H625.90V345.8H626.10V362.3H626.30V354.3H626.50V372.9H626.70V367.4H626.90V378.9H627.10V362.2H627.30V359.9H627.50V377.0H627.70V371.9H627.90V375.2H628.10V379.3H628.30V363.0H628.50V379.0H628.70V356.2H628.90V373.8H629.10V373.2H629.30V362.6H629.50V366.9H629.70V350.0H629.90V364.6H630.10V367.9H630.30V352.1H630.50V360.0H630.70V388.3H630.90V359.6H631.10V359.0H631.30V358.4H631.50V381.7H631.70V342.1H631.90V370.7H632.10V370.0H632.30V360.8H632.50V375.0H632.70V357.0H632.90V371.8H633.10V370.1H633.30V373.1H633.50V377.0H633.70V373.9H633.90V386.1H634.10V369.9H634.30V372.5H634.50V375.0H634.70V371.6H634.90V359.0H635.10V355.8H635.30V360.3H635.50V372.8H635.70V359.3H635.90V364.3H636.10V393.0H636.30V366.4H636.50V360.5H636.70V359.5H636.90V381.8H637.10V352.6H637.30V379.0H637.50V364.2H637.70V376.7H637.90V353.2H638.10V380.4H638.30V341.2H638.50V376.1H638.70V381.7H638.90V377.3H639.10V332.0H639.30V392.4H639.50V375.1H639.70V374.4H639.90V366.8H640.10V377.0H640.30V368.0H640.50V384.8H640.70V371.5H640.90V383.2H641.10V373.8H641.30V350.3H641.50V378.4H641.70V396.7H641.90V344.4H642.10V379.4H642.30V360.8H642.50V370.5H642.70V380.7H642.90V381.4H643.10V373.5H643.30V372.7H643.50V381.6H643.70V341.8H643.90V388.0H644.10V367.3H644.30V362.2H644.50V363.6H644.70V351.3H644.90V383.1H645.10V353.2H645.30V353.8H645.50V375.5H645.70V363.0H645.90V369.1H646.10V388.1H646.30V357.9H646.50V367.3H646.70V396.8H646.90V337.8H647.10V376.1H647.30V377.6H647.50V384.9H647.70V392.7H647.90V355.1H648.10V382.9H648.30V369.0H648.50V370.5H648.70V367.5H648.90V359.1H649.10V388.6H649.30V386.8H649.50V359.9H649.70V394.2H649.90V365.1H650.10V365.8H650.30V342.5H650.50V416.0H650.70V378.8H650.90V371.4H651.10V368.5H651.30V351.9H651.50V383.6H651.70V370.3H651.90V386.9H652.10V376.9H652.30V350.6H652.50V352.5H652.70V380.0H652.90V347.4H653.10V387.0H653.30V386.7H653.50V350.8H653.70V386.4H653.90V362.2H654.10V377.6H654.30V359.3H654.50V374.3H654.70V373.0H654.90V387.8H655.10V368.0H655.30V366.1H655.50V338.5H655.70V368.3H655.90V344.3H656.10V364.3H656.30V364.1H656.50V378.5H656.70V368.0H656.90V364.5H657.10V362.9H657.30V382.1H657.50V342.8H657.70V370.7H657.90V380.4H658.10V349.2H658.30V380.0H658.50V370.1H658.70V304.3H658.90V378.5H659.10V335.4H659.30V380.4H659.50V373.0H659.70V388.2H659.90V381.6H660.10V405.0H660.30V374.8H660.50V333.0H660.70V352.6H660.90V319.0H661.10V393.7H661.30V337.7H661.50V357.5H661.70V322.0H661.90V351.5H662.10V358.0H662.30V342.2H662.50V355.4H662.70V348.2H662.90V399.4H663.10V340.2H663.30V342.4H663.50V361.8H663.70V361.2H663.90V362.8H664.10V362.0H664.30V350.0H664.50V366.7H664.70V374.9H664.90V344.9H665.10V405.2H665.30V389.0H665.50V345.9H665.70V372.4H665.90V380.9H666.10V384.9H666.30V390.3H666.50V350.3H666.70V371.6H666.90V372.8H667.10V385.1H667.30V361.1H667.50V382.5H667.70V380.3H667.90V385.7H668.10V415.0H668.30V388.1H668.50V382.8H668.70V374.3H668.90V391.9H669.10V359.4H669.30V388.0H669.50V350.6H669.70V390.5H669.90V380.8H670.10V348.4H670.30V374.6H670.50V359.6H670.70V345.9H670.90V380.9H671.10V324.0H671.30V352.3H671.50V374.2H671.70V379.6H671.90V358.6H672.10V355.2H672.30V392.9H672.50V338.0H672.70V376.9H672.90V374.5H673.10V364.9H673.30V320.7H673.50V362.8H673.70V352.4H673.90V351.1H674.10V365.7H674.30V361.4H674.50V360.5H674.70V370.2H674.90V381.1H675.10V382.6H675.30V330.3H675.50V410.5H675.70V345.8H675.90V394.1H676.10V336.8H676.30V375.8H676.50V349.6H676.70V394.4H676.90V376.7H677.10V361.7H677.30V364.9H677.50V376.0H677.70V343.0H677.90V356.1H678.10V421.4H678.30V374.6H678.50V350.5H678.70V334.3H678.90V367.8H679.10V365.7H679.30V384.5H679.50V347.4H679.70V381.9H679.90V400.6H680.10V356.2H680.30V374.7H680.50V383.9H680.70V363.6H680.90V379.2H681.10V375.3H681.30V370.8H681.50V394.9H681.70V359.9H681.90V354.3H682.10V369.3H682.30V364.9H682.50V372.8H682.70V378.6H682.90V387.8H683.10V337.4H683.30V363.7H683.50V337.4H683.70V384.3H683.90V379.8H684.10V365.8H684.30V366.0H684.50V363.4H684.70V358.9H684.90V391.6H685.10V407.2H685.30V353.4H685.50V411.3H685.70V364.0H685.90V359.3H686.10V393.9H686.30V384.5H686.50V384.7H686.70V375.1H686.90V425.0H687.10V369.6H687.30V399.8H687.50V388.7H687.70V365.9H687.90V354.0H688.10V349.6H688.30V377.6H688.50V379.6H688.70V342.5H688.90V365.6H689.10V385.8H689.30V320.0H689.50V376.5H689.70V357.0H689.90V375.7H690.10V328.7H690.30V368.1H690.50V329.5H690.70V388.8H690.90V331.7H691.10V370.4H691.30V319.0H691.50V374.0H691.70V332.1H691.90V372.7H692.10V360.7H692.30V354.2H692.50V383.0H692.70V349.2H692.90V364.5H693.10V355.7H693.30V380.2H693.50V326.9H693.70V350.5H693.90V346.9H694.10V358.0H694.30V348.7H694.50V361.1H694.70V349.6H694.90V347.3H695.10V358.0H695.30V363.6H695.50V313.1H695.70V395.8H695.90V336.3H696.10V367.0H696.30V371.0H696.50V361.4H696.70V343.4H696.90V364.7H697.10V383.2H697.30V370.1H697.50V376.9H697.70V343.3H697.90V358.1H698.10V369.8H698.30V369.9H698.50V338.4H698.70V330.1H698.90V311.4H699.10V375.1H699.30V312.9H699.50V364.9H699.70V353.0H699.90V395.1H700.10V332.3H700.30V344.3H700.50V355.4H700.70V353.1H700.90V370.8H701.10V354.8H701.30V334.8H701.50V315.9H701.70V359.4H701.90V332.2H702.10V374.1H702.30V315.9H702.50V357.5H702.70V329.4H702.90V336.0H703.10V374.0H703.30V339.4H703.50V347.9H703.70V366.5H703.90V335.1H704.10V355.5H704.30V348.9H704.50V386.8H704.70V350.2H704.90V363.2H705.10V363.7H705.30V342.4H705.50V347.6H705.70V325.5H705.90V364.6H706.10V345.2H706.30V341.4H706.50V365.9H706.70V320.0H706.90V370.3H707.10V333.6H707.30V348.6H707.50V355.4H707.70V370.1H707.90V326.0H708.10V340.6H708.30V334.6H708.50V383.6H708.70V346.3H708.90V356.5H709.10V377.2H709.30V348.0H709.50V321.3H709.70V353.7H709.90V335.8H710.10V390.9H710.30V327.2H710.50V370.7H710.70V345.5H710.90V305.0H711.10V359.9H711.30V354.3H711.50V352.8H711.70V345.7H711.90V356.8H712.10V347.6H712.30V351.6H712.50V364.3H712.70V359.8H712.90V372.0H713.10V357.0H713.30V389.2H713.50V344.7H713.70V355.9H713.90V381.0H714.10V351.4H714.30V369.9H714.50V376.7H714.70V361.5H714.90V361.9H715.10V376.2H715.30V363.0H715.50V356.6H715.70V352.1H715.90V360.5H716.10V340.7H716.30V361.8H716.50V355.6H716.70V370.6H716.90V369.7H717.10V355.6H717.30V366.4H717.50V352.7H717.70V348.4H717.90V363.8H718.10V376.1H718.30V366.3H718.50V366.1H718.70V357.9H718.90V329.2H719.10V393.7H719.30V381.0H719.50V379.4H719.70V380.6H719.90V382.1H720.10V407.0H720.30V361.9H720.50V396.2H720.70V375.3H720.90V379.1H721.10V367.3H721.30V362.4H721.50V350.3H721.70V385.2H721.90V356.9H722.10V350.7H722.30V360.9H722.50V352.5H722.70V408.2H722.90V355.6H723.10V370.0H723.30V337.8H723.50V345.0H723.70V382.6H723.90V347.8H724.10V366.5H724.30V393.2H724.50V316.4H724.70V356.5H724.90V363.5H725.10V360.0H725.30V352.2H725.50V402.0H725.70V335.3H725.90V376.1H726.10V346.0H726.30V362.3H726.50V379.7H726.70V373.0H726.90V371.1H727.10V366.8H727.30V365.8H727.50V366.5H727.70V368.0H727.90V384.6H728.10V377.8H728.30V368.8H728.50V362.4H728.70V363.9H728.90V383.0H729.10V372.1H729.30V355.3H729.50V401.1H729.70V367.0H729.90V374.6H730.10V367.3H730.30V370.9H730.50V392.3H730.70V357.8H730.90V382.1H731.10V380.5H731.30V394.7H731.50V373.2H731.70V371.5H731.90V369.8H732.10V387.7H732.30V389.8H732.50V372.0H732.70V393.4H732.90V373.7H733.10V360.7H733.30V378.8H733.50V398.2H733.70V397.4H733.90V383.9H734.10V376.1H734.30V369.0H734.50V385.4H734.70V374.4H734.90V352.0H735.10V390.3H735.30V352.0H735.50V383.7H735.70V374.9H735.90V383.1H736.10V385.8H736.30V378.1H736.50V357.1H736.70V364.8H736.90V392.3H737.10V370.7H737.30V343.4H737.50V344.3H737.70V329.4H737.90V404.9H738.10V379.4H738.30V366.8H738.50V374.1H738.70V319.6H738.90V368.6H739.10V389.4H739.30V383.5H739.50V336.8H739.70V404.4H739.90V372.3H740.10V386.7H740.30V362.3H740.50V369.9H740.70V351.0H740.90V379.4H741.10V377.4H741.30V344.7H741.50V374.7H741.70V349.3H741.90V379.3H742.10V369.0H742.30V323.1H742.50V384.9H742.70V371.0H742.90V345.0H743.10V361.6H743.30V355.8H743.50V341.7H743.70V368.4H743.90V390.1H744.10V365.9H744.30V390.3H744.50V374.5H744.70V385.8H744.90V367.5H745.10V382.9H745.30V404.2H745.50V389.7H745.70V374.9H745.90V364.9H746.10V368.0H746.30V386.2H746.50V382.5H746.70V347.7H746.90V390.7H747.10V378.7H747.30V376.9H747.50V362.3H747.70V399.2H747.90V367.5H748.10V419.5H748.30V358.7H748.50V371.8H748.70V363.8H748.90V361.8H749.10V361.4H749.30V359.0H749.50V357.5H749.70V353.7H749.90V371.6H750.10V340.7H750.30V367.6H750.50V377.6H750.70V356.0H750.90V355.5H751.10V384.2H751.30V368.7H751.50V361.7H751.70V360.0H751.90V366.5H752.10V366.3H752.30V366.0H752.50V360.1H752.70V373.1H752.90V358.8H753.10V352.3H753.30V356.2H753.50V368.5H753.70V353.9H753.90V343.3H754.10V383.5H754.30V362.0H754.50V359.5H754.70V359.9H754.90V372.8H755.10V379.5H755.30V357.6H755.50V375.8H755.70V359.3H755.90V371.4H756.10V353.2H756.30V350.8H756.50V370.9H756.70V364.4H756.90V370.2H757.10V338.3H757.30V378.6H757.50V346.2H757.70V377.4H757.90V341.4H758.10V295.0H758.30V335.6H758.50V353.0H758.70V355.0H758.90V315.6H759.10V326.3H759.30V372.3H759.50V296.3H759.70V336.2H759.90V343.1H760.10V351.2H760.30V314.1H760.50V335.2H760.70V315.5H760.90V334.9H761.10V354.2H761.30V337.6H761.50V337.7H761.70V347.8H761.90V339.9H762.10V346.8H762.30V340.9H762.50V331.9H762.70V352.2H762.90V316.8H763.10V367.2H763.30V369.2H763.50V362.2H763.70V373.3H763.90V330.3H764.10V370.0H764.30V348.0H764.50V355.7H764.70V345.3H764.90V360.6H765.10V391.8H765.30V379.7H765.50V388.2H765.70V381.8H765.90V375.1H766.10V353.0H766.30V368.5H766.50V379.3H766.70V385.6H766.90V356.3H767.10V358.8H767.30V359.2H767.50V389.4H767.70V369.9H767.90V369.6H768.10V369.1H768.30V388.5H768.50V351.7H768.70V381.1H768.90V369.9H769.10V372.6H769.30V383.9H769.50V383.9H769.70V408.5H769.90V365.4H770.10V387.1H770.30V358.3H770.50V354.2H770.70V390.0H770.90V390.4H771.10V351.8H771.30V373.3H771.50V379.5H771.70V362.3H771.90V334.5H772.10V389.3H772.30V355.5H772.50V377.2H772.70V351.6H772.90V382.7H773.10V368.3H773.30V348.1H773.50V374.1H773.70V348.9H773.90V362.1H774.10V356.4H774.30V366.8H774.50V361.3H774.70V389.4H774.90V361.1H775.10V358.5H775.30V394.6H775.50V369.3H775.70V383.5H775.90V361.1H776.10V371.8H776.30V352.8H776.50V348.5H776.70V367.1H776.90V365.3H777.10V369.2H777.30V376.7H777.50V338.8H777.70V378.1H777.90V350.6H778.10V366.1H778.30V372.1H778.50V363.7H778.70V355.8H778.90V375.9H779.10V359.0H779.30V379.5H779.50V379.9H779.70V357.3H779.90V354.8H780.10V379.0H780.30V387.0H780.50V377.1H780.70V357.7H780.90V356.5H781.10V366.3H781.30V368.2H781.50V392.4H781.70V381.3H781.90V396.2H782.10V372.2H782.30V401.3H782.50V367.3H782.70V382.2H782.90V367.1H783.10V385.3H783.30V384.3H783.50V376.5H783.70V382.5H783.90V352.2H784.10V379.8H784.30V389.2H784.50V365.2H784.70V368.0H784.90V360.8H785.10V355.3H785.30V367.4H785.50V383.7H785.70V366.3H785.90V367.1H786.10V352.9H786.30V352.3H786.50V402.0H786.70V344.4H786.90V374.4H787.10V361.1H787.30V378.4H787.50V363.7H787.70V370.3H787.90V384.5H788.10V350.8H788.30V379.6H788.50V361.7H788.70V378.5H788.90V415.8H789.10V373.2H789.30V343.3H789.50V345.1H789.70V356.5H789.90V363.0H790.10V354.3H790.30V367.5H790.50V388.3H790.70V349.8H790.90V384.9H791.10V367.0H791.30V358.4H791.50V356.2H791.70V383.9H791.90V374.1H792.10V367.1H792.30V374.6H792.50V377.0H792.70V355.4H792.90V382.6H793.10V383.0H793.30V402.8H793.50V341.9H793.70V358.5H793.90V367.8H794.10V356.4H794.30V367.8H794.50V375.3H794.70V365.7H794.90V372.2H795.10V368.4H795.30V345.6H795.50V390.9H795.70V336.5H795.90V406.8H796.10V373.3H796.30V360.6H796.50V382.3H796.70V354.8H796.90V370.9H797.10V370.7H797.30V360.1H797.50V354.3H797.70V362.6H797.90V351.6H798.10V354.4H798.30V343.1H798.50V334.3H798.70V387.9H798.90V364.3H799.10V344.6H799.30V374.0H799.50V363.4H799.70V336.9H799.90V362.0H800.10V363.5H800.30V386.7H800.50V375.9H800.70V378.5H800.90V363.7H801.10V376.6H801.30V343.3H801.50V376.3H801.70V369.2H801.90V346.4H802.10V369.3H802.30V377.7H802.50V372.7H802.70V367.0H802.90V343.2H803.10V357.7H803.30V349.3H803.50V374.3H803.70V340.1H803.90V344.2H804.10V337.1H804.30V369.1H804.50V370.7H804.70V352.8H804.90V360.4H805.10V370.9H805.30V301.0H805.50V338.8H805.70V373.2H805.90V370.3H806.10V386.8H806.30V399.7H806.50V386.0H806.70V381.4H806.90V398.1H807.10V386.5H807.30V378.7H807.50V381.6H807.70V361.3H807.90V389.9H808.10V365.5H808.30V373.2H808.50V384.5H808.70V359.0H808.90V380.9H809.10V382.5H809.30V398.8H809.50V381.5H809.70V398.8H809.90V418.4H810.10V399.0H810.30V366.2H810.50V366.2H810.70V380.4H810.90V378.3H811.10V356.3H811.30V366.7H811.50V365.6H811.70V381.1H811.90V405.2H812.10V396.7H812.30V351.4H812.50V373.1H812.70V347.6H812.90V354.9H813.10V379.2H813.30V366.2H813.50V356.2H813.70V378.4H813.90V353.5H814.10V390.0H814.30V345.8H814.50V388.4H814.70V358.1H814.90V367.0H815.10V371.8H815.30V334.0H815.50V354.9H815.70V371.1H815.90V428.0H816.10V380.2H816.30V359.4H816.50V350.6H816.70V377.6H816.90V375.9H817.10V351.3H817.30V395.3H817.50V373.7H817.70V384.1H817.90V381.8H818.10V352.4H818.30V416.1H818.50V334.2H818.70V381.6H818.90V379.5H819.10V374.3H819.30V379.2H819.50V358.1H819.70V366.5H819.90V366.0H820.10V387.9H820.30V347.5H820.50V392.3H820.70V371.5H820.90V362.9H821.10V357.5H821.30V368.0H821.50V336.0H821.70V384.4H821.90V373.3H822.10V355.6H822.30V378.6H822.50V372.6H822.70V358.0H822.90V394.9H823.10V354.8H823.30V429.3H823.50V340.9H823.70V367.8H823.90V361.6H824.10V384.9H824.30V399.8H824.50V371.2H824.70V367.9H824.90V420.6H825.10V386.0H825.30V367.8H825.50V374.0H825.70V348.2H825.90V389.6H826.10V392.7H826.30V343.8H826.50V358.1H826.70V376.6H826.90V324.0H827.10V381.3H827.30V315.4H827.50V343.1H827.70V344.7H827.90V367.1H828.10V347.2H828.30V311.7H828.50V327.1H828.70V353.7H828.90V314.8H829.10V356.3H829.30V342.5H829.50V376.6H829.70V374.1H829.90V313.7H830.10V382.7H830.30V369.8H830.50V346.5H830.70V355.3H830.90V342.6H831.10V357.1H831.30V358.8H831.50V367.8H831.70V363.4H831.90V334.2H832.10V329.1H832.30V353.2H832.50V309.2H832.70V328.9H832.90V350.9H833.10V371.1H833.30V318.5H833.50V350.0H833.70V323.5H833.90V347.6H834.10V342.2H834.30V335.0H834.50V355.2H834.70V340.2H834.90V352.7H835.10V339.4H835.30V329.3H835.50V357.3H835.70V362.5H835.90V339.3H836.10V379.7H836.30V354.8H836.50V347.6H836.70V354.4H836.90V344.9H837.10V339.3H837.30V366.7H837.50V353.0H837.70V314.0H837.90V340.1H838.10V345.6H838.30V360.9H838.50V370.3H838.70V335.0H838.90V363.3H839.10V361.4H839.30V374.3H839.50V386.5H839.70V343.5H839.90V337.4H840.10V379.9H840.30V346.4H840.50V406.8H840.70V352.7H840.90V375.2H841.10V376.1H841.30V379.7H841.50V370.5H841.70V384.9H841.90V398.0H842.10V371.6H842.30V415.2H842.50V379.0H842.70V351.8H842.90V407.2H843.10V345.2H843.30V395.8H843.50V408.8H843.70V380.0H843.90V350.1H844.10V363.2H844.30V370.8H844.50V394.9H844.70V351.1H844.90V394.4H845.10V374.4H845.30V371.4H845.50V367.6H845.70V404.2H845.90V347.4H846.10V370.3H846.30V396.8H846.50V384.2H846.70V349.9H846.90V366.6H847.10V356.1H847.30V386.5H847.50V362.3H847.70V401.7H847.90V377.1H848.10V371.7H848.30V370.1H848.50V376.7H848.70V387.1H848.90V371.5H849.10V377.2H849.30V385.1H849.50V370.1H849.70V391.3H849.90V366.5H850.10V365.5H850.30V388.2H850.50V408.0H850.70V389.7H850.90V334.7H851.10V387.1H851.30V351.1H851.50V365.8H851.70V299.0H851.90V368.7H852.10V360.2H852.30V364.5H852.50V374.5H852.70V342.3H852.90V353.9H853.10V354.7H853.30V351.3H853.50V378.7H853.70V330.4H853.90V364.2H854.10V362.5H854.30V375.6H854.50V365.3H854.70V391.2H854.90V356.5H855.10V370.9H855.30V381.3H855.50V345.0H855.70V394.4H855.90V403.8H856.10V377.4H856.30V383.4H856.50V415.8H856.70V372.8H856.90V432.6H857.10V334.7H857.30V405.6H857.50V374.4H857.70V400.7H857.90V401.4H858.10V371.8H858.30V375.9H858.50V328.2H858.70V405.7H858.90V392.6H859.10V375.0H859.30V366.8H859.50V384.7H859.70V393.2H859.90V384.9H860.10V413.1H860.30V357.3H860.50V367.2H860.70V404.8H860.90V409.3H861.10V320.0H861.30V397.1H861.50V379.2H861.70V370.9H861.90V385.9H862.10V358.8H862.30V409.6H862.50V390.8H862.70V400.0H862.90V360.2H863.10V372.2H863.30V342.7H863.50V347.0H863.70V384.2H863.90V406.4H864.10V329.4H864.30V368.5H864.50V376.2H864.70V341.9H864.90V377.8H865.10V354.9H865.30V362.7H865.50V385.9H865.70V361.3H865.90V350.1H866.10V396.9H866.30V363.2H866.50V367.1H866.70V366.1H866.90V394.7H867.10V361.7H867.30V387.1H867.50V397.2H867.70V371.6H867.90V401.3H868.10V346.3H868.30V403.5H868.50V382.9H868.70V412.4H868.90V368.5H869.10V388.0H869.30V362.5H869.50V357.7H869.70V362.8H869.90V361.8H870.10V375.9H870.30V340.1H870.50V361.5H870.70V366.9H870.90V369.9H871.10V356.7H871.30V369.0H871.50V333.9H871.70V355.2H871.90V363.2H872.10V369.7H872.30V361.9H872.50V352.1H872.70V365.1H872.90V341.1H873.10V382.5H873.30V338.5H873.50V376.8H873.70V373.5H873.90V371.0H874.10V338.6H874.30V374.2H874.50V355.1H874.70V358.3H874.90V297.0H875.10V354.8H875.30V336.7H875.50V341.4H875.70V362.4H875.90V347.0H876.10V336.4H876.30V331.6H876.50V345.8H876.70V344.7H876.90V363.4H877.10V339.7H877.30V361.9H877.50V366.4H877.70V331.8H877.90V354.1H878.10V371.2H878.30V338.8H878.50V350.3H878.70V358.1H878.90V335.8H879.10V346.2H879.30V329.5H879.50V362.2H879.70V338.9H879.90V349.0H880.10V279.0H880.30V378.3H880.50V361.4H880.70V348.0H880.90V375.6H881.10V319.9H881.30V366.4H881.50V331.4H881.70V385.9H881.90V317.1H882.10V354.3H882.30V346.5H882.50V377.6H882.70V368.4H882.90V364.2H883.10V360.5H883.30V405.2H883.50V335.6H883.70V381.9H883.90V399.8H884.10V339.9H884.30V360.1H884.50V389.3H884.70V368.6H884.90V336.4H885.10V321.0H885.30V404.4H885.50V349.0H885.70V385.7H885.90V355.3H886.10V356.7H886.30V404.9H886.50V381.3H886.70V391.5H886.90V368.9H887.10V387.1H887.30V378.8H887.50V384.6H887.70V366.6H887.90V368.8H888.10V394.8H888.30V357.2H888.50V376.8H888.70V371.9H888.90V366.9H889.10V356.4H889.30V372.1H889.50V394.5H889.70V378.1H889.90V378.3H890.10V416.6H890.30V363.2H890.50V411.6H890.70V385.6H890.90V369.2H891.10V392.5H891.30V381.2H891.50V407.3H891.70V391.3H891.90V379.5H892.10V369.3H892.30V365.7H892.50V391.3H892.70V367.1H892.90V393.7H893.10V382.9H893.30V399.1H893.50V400.1H893.70V384.9H893.90V398.0H894.10V385.9H894.30V403.1H894.50V391.9H894.70V406.1H894.90V397.9H895.10V371.5H895.30V367.9H895.50V400.4H895.70V404.4H895.90V372.3H896.10V412.8H896.30V384.7H896.50V390.1H896.70V395.3H896.90V428.5H897.10V368.0H897.30V389.2H897.50V374.4H897.70V391.7H897.90V387.1H898.10V351.6H898.30V383.9H898.50V392.7H898.70V350.5H898.90V386.2H899.10V360.2H899.30V354.2H899.50V397.6H899.70V380.7H899.90V366.6H900.10V369.6H900.30V396.3H900.50V387.2H900.70V371.6H900.90V393.9H901.10V382.2H901.30V380.2H901.50V389.3H901.70V375.0H901.90V394.4H902.10V380.0H902.30V381.2H902.50V380.3H902.70V396.7H902.90V400.5H903.10V389.2H903.30V375.8H903.50V406.8H903.70V368.7H903.90V372.0H904.10V374.8H904.30V391.9H904.50V386.1H904.70V381.0H904.90V392.0H905.10V361.7H905.30V339.2H905.50V370.3H905.70V347.1H905.90V365.6H906.10V357.2H906.30V349.4H906.50V329.7H906.70V351.2H906.90V289.0H907.10V339.3H907.30V336.5H907.50V330.3H907.70V327.9H907.90V351.9H908.10V357.0H908.30V352.1H908.50V349.0H908.70V380.9H908.90V353.3H909.10V362.4H909.30V376.8H909.50V354.8H909.70V376.3H909.90V364.9H910.10V386.6H910.30V377.5H910.50V372.0H910.70V395.6H910.90V404.2H911.10V363.6H911.30V383.8H911.50V365.9H911.70V405.8H911.90V366.4H912.10V402.8H912.30V356.3H912.50V392.1H912.70V351.2H912.90V367.7H913.10V384.5H913.30V364.2H913.50V367.2H913.70V393.3H913.90V363.8H914.10V392.1H914.30V408.3H914.50V348.4H914.70V374.0H914.90V339.3H915.10V360.1H915.30V385.9H915.50V374.4H915.70V379.6H915.90V389.9H916.10V373.3H916.30V370.0H916.50V430.1H916.70V399.5H916.90V439.6H917.10V382.5H917.30V410.0H917.50V376.7H917.70V393.7H917.90V384.4H918.10V392.2H918.30V399.9H918.50V377.1H918.70V324.9H918.90V394.7H919.10V380.8H919.30V402.4H919.50V379.5H919.70V376.2H919.90V378.6H920.10V388.5H920.30V386.4H920.50V430.1H920.70V396.9H920.90V393.8H921.10V414.3H921.30V430.1H921.50V375.6H921.70V390.8H921.90V371.5H922.10V337.5H922.30V349.3H922.50V341.3H922.70V363.1H922.90V351.2H923.10V325.9H923.30V320.0H923.50V337.0H923.70V329.6H923.90V320.9H924.10V316.1H924.30V310.0H924.50V321.0H924.70V320.5H924.90V321.6H925.10V306.1H925.30V311.2H925.50V297.0H925.70V294.4H925.90V294.0H926.10V293.7H926.30V290.6H926.50V265.0H926.70V285.4H926.90V268.6H927.10V280.5H927.30V274.6H927.50V268.6H927.70V289.0H927.90V267.0H928.10V284.9H928.30V288.0H928.50V301.2H928.70V300.2H928.90V302.9H929.10V301.1H929.30V309.0H929.50V300.0H929.70V296.0H929.90V313.6H930.10V321.7H930.30V325.7H930.50V337.6H930.70V330.0H930.90V337.8H931.10V380.7H931.30V378.8H931.50V377.1H931.70V397.5H931.90V371.9H932.10V398.7H932.30V398.2H932.50V415.0H932.70V408.1H932.90V418.4H933.10V369.7H933.30V392.6H933.50V405.2H933.70V388.0H933.90V343.8H934.10V453.6H934.30V362.1H934.50V360.1H934.70V358.2H934.90V311.0H935.10V384.9H935.30V359.0H935.50V352.6H935.70V377.1H935.90V368.9H936.10V319.1H936.30V329.2H936.50V334.6H936.70V385.4H936.90V428.0H937.10V397.3H937.30V368.0H937.50V357.8H937.70V330.4H937.90V372.1H938.10V431.1H938.30V338.0H938.50V360.3H938.70V376.1H938.90V314.0H939.10V372.1H939.30V358.9H939.50V379.8H939.70V393.8H939.90V398.8H940.10V416.7H940.30V442.5H940.50V399.0H940.70V389.2H940.90V368.0" stroke="#0000ff" stroke-width="1" fill="none" stroke-linejoin="miter" shape-rendering="crispEdges"/><path d="M535.8 260 Q539.6 254.6 543.4 260 C555 274 575.5 303 575.5 325 C575.5 346 559 360.7 540.5 360.7 C522 360.7 505 346 505 325 C505 303 525 274 536.6 259 Z" fill="#9db8e6" fill-opacity="0.18"/>
<circle cx="540.8" cy="312" r="10" fill="url(#lg3)"/>
<path d="M540.8 304 L542 310 548.2 307.8 543.2 312 548.2 316.2 542 314 540.8 320 539.6 314 533.4 316.2 538.4 312 533.4 307.8 539.6 310 Z" fill="#fdf6a0"/>
<text x="541" y="335.3" text-anchor="middle" font-family="'Liberation Sans', sans-serif" font-weight="bold" font-style="italic" font-size="11" fill="#f2e57a" fill-opacity="0.85" textLength="37" lengthAdjust="spacingAndGlyphs">WISH</text>
<g font-family="'Liberation Serif', serif" font-size="17.6" fill="#000"><text x="90" y="547.5" text-anchor="end">−0.8</text><text x="90" y="503.9" text-anchor="end">−0.6</text><text x="90" y="460.2" text-anchor="end">−0.4</text><text x="90" y="416.6" text-anchor="end">−0.2</text><text x="90" y="373.0" text-anchor="end">0.0</text><text x="90" y="329.3" text-anchor="end">0.2</text><text x="90" y="285.7" text-anchor="end">0.4</text><text x="90" y="242.0" text-anchor="end">0.6</text><text x="90" y="198.4" text-anchor="end">0.8</text><text x="90" y="154.8" text-anchor="end">1.0</text><text x="90" y="111.1" text-anchor="end">1.2</text><text x="90" y="67.5" text-anchor="end">1.4</text><text x="97.5" y="561" text-anchor="middle">992.5</text><text x="193.4" y="561" text-anchor="middle">993.0</text><text x="289.3" y="561" text-anchor="middle">993.5</text><text x="385.2" y="561" text-anchor="middle">994.0</text><text x="481.1" y="561" text-anchor="middle">994.5</text><text x="577.0" y="561" text-anchor="middle">995.0</text><text x="672.9" y="561" text-anchor="middle">995.5</text><text x="768.8" y="561" text-anchor="middle">996.0</text><text x="864.7" y="561" text-anchor="middle">996.5</text><text x="960.6" y="561" text-anchor="middle">997.0</text><text x="1056.5" y="561" text-anchor="middle">997.5</text></g><g font-family="'Liberation Serif', serif" font-size="26" fill="#000"><text x="327.3" y="40" text-anchor="middle">1</text><text x="343.7" y="40" text-anchor="middle">3</text><text x="357.6" y="40" text-anchor="middle">4</text><text x="371.6" y="40" text-anchor="middle">2</text><text x="385.9" y="40" text-anchor="middle">1</text><text x="399.8" y="40" text-anchor="middle">9</text><text x="414.3" y="40" text-anchor="middle">5</text><text x="428.6" y="40" text-anchor="middle">0</text><text x="442.8" y="40" text-anchor="middle">1</text><text x="456.2" y="40" text-anchor="middle">6</text><rect x="472.6" y="32.6" width="9.8" height="1.7" fill="#000"/><text x="505.3" y="40" text-anchor="middle" textLength="21" lengthAdjust="spacingAndGlyphs">W</text><text x="523.8" y="40" text-anchor="middle">5</text><text x="535.9" y="40" text-anchor="middle">1</text><text x="552.0" y="40" text-anchor="middle" textLength="17.2" lengthAdjust="spacingAndGlyphs">N</text><rect x="560.1" y="32.6" width="9.8" height="1.7" fill="#000"/><text x="578.0" y="40" text-anchor="middle">e</text><text x="591.0" y="40" text-anchor="middle">1</text><text x="609.9" y="40" text-anchor="middle">(</text><text x="624.3" y="40" text-anchor="middle" textLength="21" lengthAdjust="spacingAndGlyphs">W</text><text x="641.6" y="40" text-anchor="middle" textLength="14.5" lengthAdjust="spacingAndGlyphs">B</text><text x="655.0" y="40" text-anchor="middle" textLength="12.3" lengthAdjust="spacingAndGlyphs">S</text><rect x="663.0" y="32.6" width="9.8" height="1.7" fill="#000"/><text x="683.5" y="40" text-anchor="middle" textLength="18.0" lengthAdjust="spacingAndGlyphs">H</text><rect x="694.8" y="32.6" width="9.8" height="1.7" fill="#000"/><text x="715.5" y="40" text-anchor="middle" textLength="16.8" lengthAdjust="spacingAndGlyphs">U</text><text x="730.2" y="40" text-anchor="middle" textLength="12.3" lengthAdjust="spacingAndGlyphs">S</text><text x="742.8" y="40" text-anchor="middle" textLength="14.5" lengthAdjust="spacingAndGlyphs">B</text><text x="753.8" y="40" text-anchor="middle">)</text></g><g font-family="'Liberation Serif', serif" font-size="25" fill="#000"><text x="484" y="589" textLength="115" lengthAdjust="spacingAndGlyphs">Frequency</text><text x="605" y="589" textLength="65.5" lengthAdjust="spacingAndGlyphs">[GHz]</text></g><g transform="translate(46,339.5) rotate(-90)" font-family="'Liberation Serif', serif" fill="#000"><text x="0" y="0" font-size="25"><tspan font-style="italic">T</tspan><tspan font-size="15" dx="2" dy="6" textLength="18.6" lengthAdjust="spacingAndGlyphs">MB</tspan><tspan dx="8" dy="-6">[K]</tspan></text></g>
</svg></body></html>
